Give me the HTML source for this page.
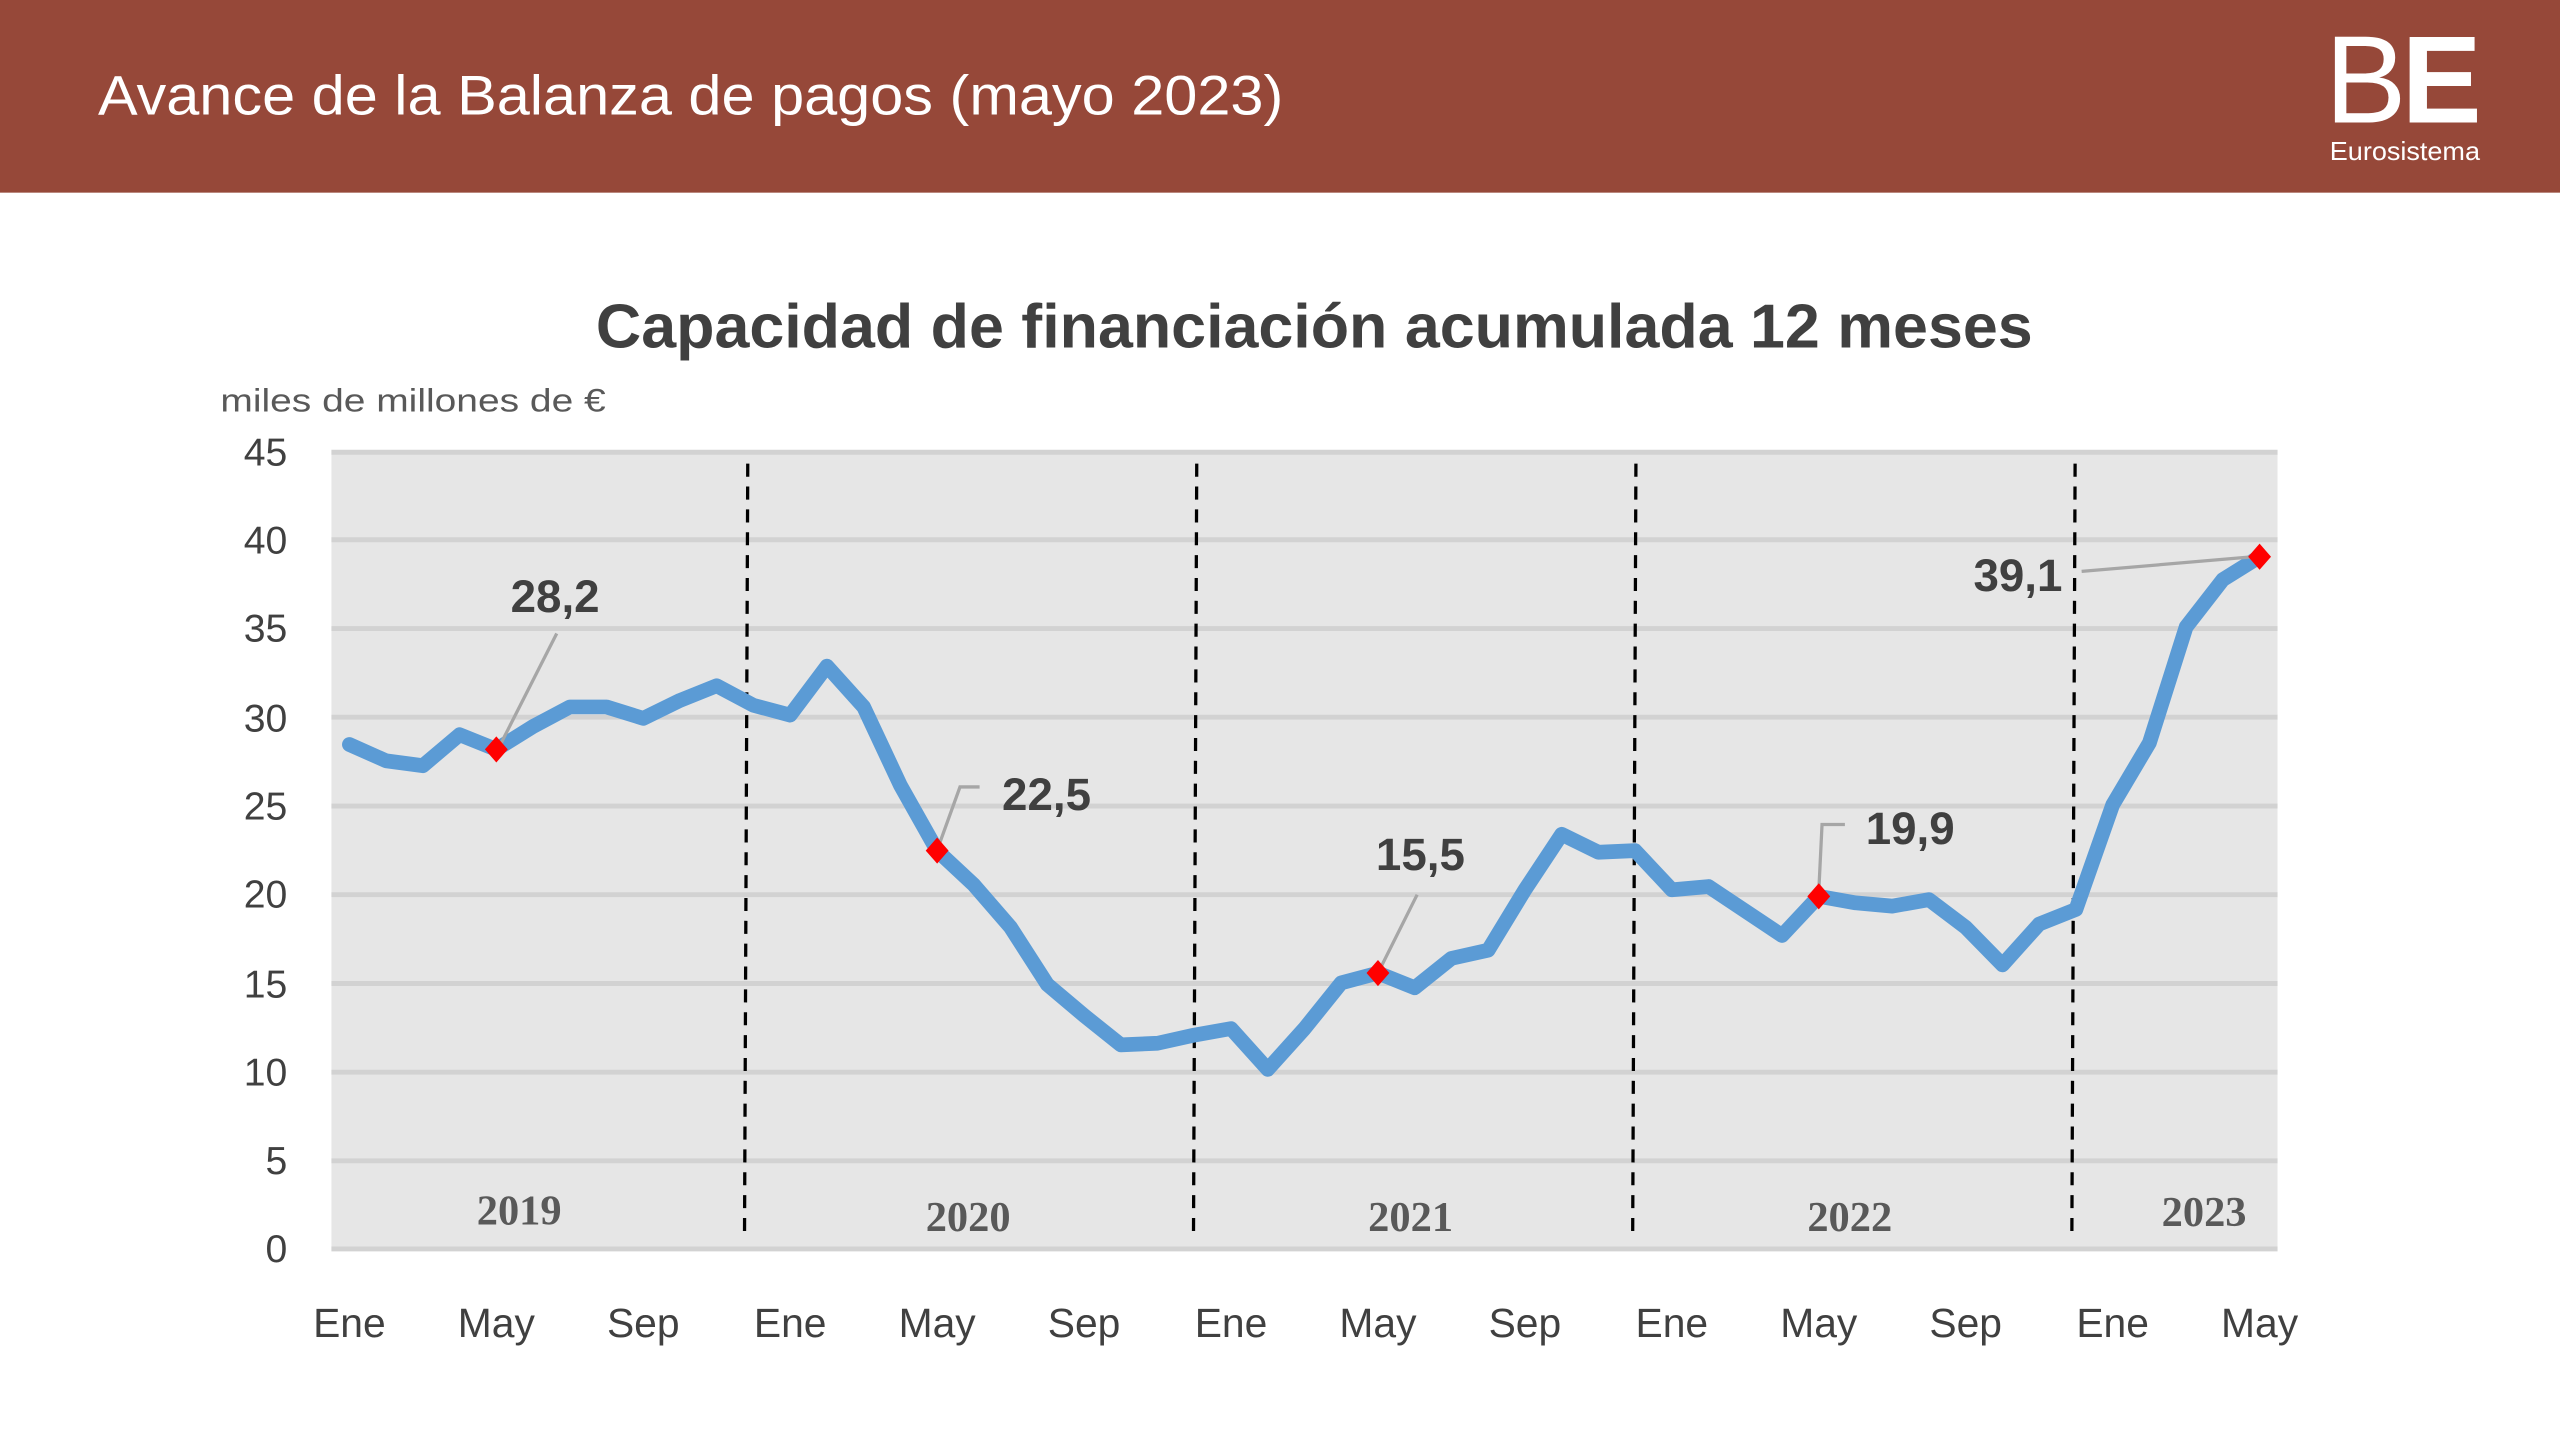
<!DOCTYPE html>
<html><head><meta charset="utf-8"><style>
html,body{margin:0;padding:0;background:#fff;}
svg{display:block;}
text{font-family:"Liberation Sans",sans-serif;}
</style></head><body>
<svg width="2560" height="1440" viewBox="0 0 1568 882" preserveAspectRatio="none" xmlns="http://www.w3.org/2000/svg">
<rect x="0" y="0" width="1568" height="118" fill="#964839"/>
<text x="60" y="70" font-size="34" fill="#fff" textLength="726" lengthAdjust="spacingAndGlyphs">Avance de la Balanza de pagos (mayo 2023)</text>
<text x="1424" y="75" font-size="76" fill="#fff" textLength="50" lengthAdjust="spacingAndGlyphs">B</text>
<text x="1471" y="75" font-size="76" fill="#fff" font-weight="bold" textLength="49" lengthAdjust="spacingAndGlyphs">E</text>
<text x="1427" y="98" font-size="16" fill="#fff" textLength="92" lengthAdjust="spacingAndGlyphs">Eurosistema</text>

<text x="805" y="213" font-size="38" font-weight="bold" fill="#404040" text-anchor="middle" textLength="880" lengthAdjust="spacingAndGlyphs">Capacidad de financiación acumulada 12 meses</text>
<text x="135" y="252" font-size="20" fill="#595959" textLength="236" lengthAdjust="spacingAndGlyphs">miles de millones de  €</text>

<rect x="203" y="276" width="1192" height="490" fill="#e6e6e6"/>
<g stroke="#d2d2d2" stroke-width="3">
<line x1="203" y1="277" x2="1395" y2="277"/>
<line x1="203" y1="330.6" x2="1395" y2="330.6"/>
<line x1="203" y1="385" x2="1395" y2="385"/>
<line x1="203" y1="439.3" x2="1395" y2="439.3"/>
<line x1="203" y1="493.7" x2="1395" y2="493.7"/>
<line x1="203" y1="548" x2="1395" y2="548"/>
<line x1="203" y1="602.4" x2="1395" y2="602.4"/>
<line x1="203" y1="656.7" x2="1395" y2="656.7"/>
<line x1="203" y1="711" x2="1395" y2="711"/>
<line x1="203" y1="765" x2="1395" y2="765"/>
</g>
<g font-size="24" fill="#404040" text-anchor="end">
<text x="176" y="285">45</text><text x="176" y="339">40</text><text x="176" y="393">35</text>
<text x="176" y="448">30</text><text x="176" y="502">25</text><text x="176" y="556">20</text>
<text x="176" y="611">15</text><text x="176" y="665">10</text><text x="176" y="719">5</text>
<text x="176" y="773">0</text>
</g>
<g stroke="#000" stroke-width="2" stroke-dasharray="8,6">
<line x1="458" y1="284" x2="456" y2="760"/>
<line x1="733" y1="284" x2="731" y2="760"/>
<line x1="1002" y1="284" x2="1000" y2="760"/>
<line x1="1271" y1="284" x2="1269" y2="760"/>
</g>
<g font-size="26" font-weight="bold" fill="#595959" text-anchor="middle">
<text x="318" y="750" style="font-family:'Liberation Serif',serif">2019</text>
<text x="593" y="754" style="font-family:'Liberation Serif',serif">2020</text>
<text x="864" y="754" style="font-family:'Liberation Serif',serif">2021</text>
<text x="1133" y="754" style="font-family:'Liberation Serif',serif">2022</text>
<text x="1350" y="751" style="font-family:'Liberation Serif',serif">2023</text>
</g>
<g font-size="25" fill="#404040" text-anchor="middle">
<text x="214" y="819">Ene</text><text x="304" y="819">May</text><text x="394" y="819">Sep</text>
<text x="484" y="819">Ene</text><text x="574" y="819">May</text><text x="664" y="819">Sep</text>
<text x="754" y="819">Ene</text><text x="844" y="819">May</text><text x="934" y="819">Sep</text>
<text x="1024" y="819">Ene</text><text x="1114" y="819">May</text><text x="1204" y="819">Sep</text>
<text x="1294" y="819">Ene</text><text x="1384" y="819">May</text>
</g>
<polyline fill="none" stroke="#5b9bd5" stroke-width="9" stroke-linejoin="round" stroke-linecap="round" points="214,456 236.5,466 259,469 281.5,450 304,459 326.5,445 349,433 371.5,433 394,440 416.5,429 439,420 461.5,432 484,438 506.5,408 529,433 551.5,481 574,521 596.5,542 619,568 641.5,603 664,622 686.5,640 709,639 731.5,634 754,630 776.5,655 799,630 821.5,602 844,596 866.5,605 889,587 911.5,582 934,545 956.5,511 979,522 1001.5,521 1024,545 1046.5,543 1069,558 1091.5,573 1114,549 1136.5,553 1159,555 1181.5,551 1204,568 1226.5,591 1249,566 1271.5,557 1294,493 1316.5,455 1339,384 1361.5,355 1384,341"/>
<g stroke="#a6a6a6" stroke-width="2" fill="none">
<line x1="341" y1="388" x2="306" y2="457"/>
<polyline points="600,482 588,482 575,518"/>
<line x1="868" y1="548" x2="845" y2="594"/>
<polyline points="1130,505 1116,505 1114,546"/>
<line x1="1275" y1="350" x2="1380" y2="341"/>
</g>
<g fill="#ff0000">
<polygon points="304,451 311,459 304,467 297,459"/>
<polygon points="574,513 581,521 574,529 567,521"/>
<polygon points="844,588 851,596 844,604 837,596"/>
<polygon points="1114,541 1121,549 1114,557 1107,549"/>
<polygon points="1384,333 1391,341 1384,349 1377,341"/>
</g>
<g font-size="28" font-weight="bold" fill="#404040" text-anchor="middle">
<text x="340" y="375">28,2</text>
<text x="641" y="496">22,5</text>
<text x="870" y="533">15,5</text>
<text x="1170" y="517">19,9</text>
<text x="1236" y="362">39,1</text>
</g>
</svg>
</body></html>
